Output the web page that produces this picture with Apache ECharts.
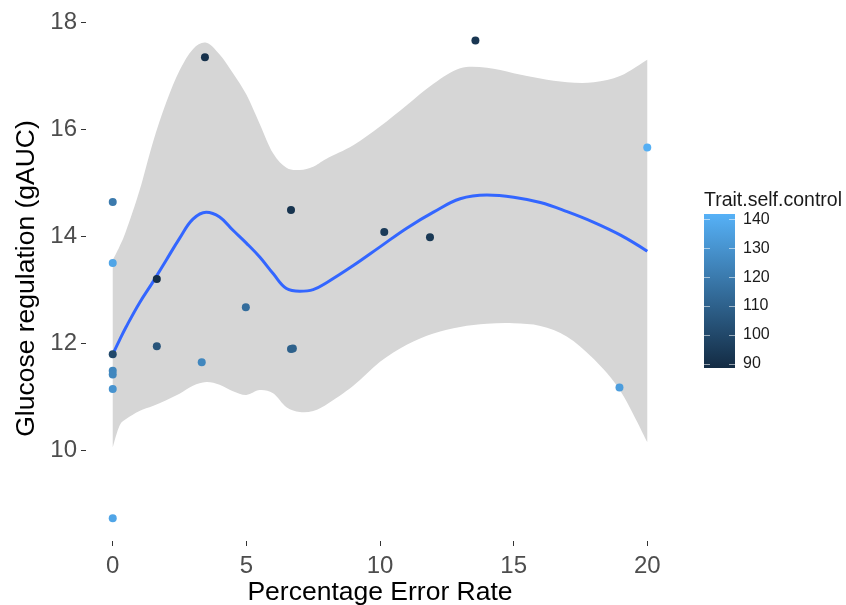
<!DOCTYPE html>
<html>
<head>
<meta charset="utf-8">
<script src="https://cdn.jsdelivr.net/npm/echarts@6/dist/echarts.min.js"></script>
<style>html,body{margin:0;padding:0;background:#fff}#c{width:846px;height:605px}</style>
</head>
<body>
<div id="c"></div>
<script>
// ---- data ----
const errorRate   = [0, 0, 0, 0, 0, 0, 0, 1.65, 1.65, 3.45, 3.33, 4.98, 6.67, 6.67, 6.74, 10.16, 11.87, 13.57, 20.0, 18.96];
const glucose     = [14.64, 13.50, 11.79, 11.48, 11.41, 11.14, 8.72, 13.20, 11.94, 17.35, 11.64, 12.67, 14.49, 11.89, 11.90, 14.08, 13.98, 17.66, 15.66, 11.17];
const selfControl = [120, 137, 100, 125, 125, 130, 137, 90, 105, 91, 125, 115, 92, 110, 110, 95, 94, 93, 141, 134];

const smoothX  = [0, 0.25, 0.5, 1, 1.5, 2, 2.5, 3, 3.5, 4, 4.5, 5, 5.5, 6, 6.5, 7, 7.5, 8, 9, 10, 11, 12, 13, 14, 15, 16, 17, 18, 19, 20];
const fitY     = [11.79, 12.05, 12.30, 12.75, 13.14, 13.55, 13.96, 14.32, 14.45, 14.36, 14.11, 13.87, 13.61, 13.30, 13.02, 12.97, 13.00, 13.13, 13.45, 13.80, 14.15, 14.45, 14.70, 14.77, 14.73, 14.63, 14.46, 14.26, 14.02, 13.72];
const upperY   = [13.55, 13.80, 14.10, 14.85, 15.75, 16.50, 17.10, 17.50, 17.62, 17.40, 17.05, 16.65, 16.10, 15.55, 15.28, 15.24, 15.30, 15.45, 15.70, 16.05, 16.45, 16.85, 17.14, 17.15, 17.05, 16.95, 16.88, 16.88, 17.00, 17.30];
const lowerY   = [10.05, 10.45, 10.58, 10.73, 10.82, 10.93, 11.05, 11.20, 11.27, 11.22, 11.10, 11.03, 11.12, 11.06, 10.80, 10.71, 10.73, 10.85, 11.20, 11.65, 11.97, 12.18, 12.30, 12.36, 12.37, 12.32, 12.12, 11.70, 11.10, 10.15];

const xTicks = [0, 5, 10, 15, 20];
const yTicks = [10, 12, 14, 16, 18];
const legendTicks = [90, 100, 110, 120, 130, 140];
const legendMin = 88.6, legendMax = 141.8;

// ---- chart ----
const LOW = '#132B43', HIGH = '#56B1F7';
const FONT = 'Liberation Sans, Arial, sans-serif';
const chart = echarts.init(document.getElementById('c'), null, {renderer: 'canvas'});

const scatterData = errorRate.map((x, i) => [x, glucose[i], selfControl[i]]);
const lineData = smoothX.map((x, i) => [x, fitY[i]]);

// smooth path (Catmull-Rom -> cubic bezier) through pixel points
function curve(p, move) {
  let d = (move ? 'M' : 'L') + p[0][0] + ',' + p[0][1];
  for (let i = 0; i < p.length - 1; i++) {
    const p0 = p[i - 1] || p[i], p1 = p[i], p2 = p[i + 1], p3 = p[i + 2] || p[i + 1];
    const c1 = [p1[0] + (p2[0] - p0[0]) / 6, p1[1] + (p2[1] - p0[1]) / 6];
    const c2 = [p2[0] - (p3[0] - p1[0]) / 6, p2[1] - (p3[1] - p1[1]) / 6];
    d += ' C' + c1[0] + ',' + c1[1] + ' ' + c2[0] + ',' + c2[1] + ' ' + p2[0] + ',' + p2[1];
  }
  return d;
}

const legendTick = {show: true, inside: true, length: 6, customValues: legendTicks,
  lineStyle: {color: 'rgba(255,255,255,0.55)', width: 1}};

const option = {
  animation: false,
  backgroundColor: '#ffffff',
  textStyle: {fontFamily: FONT},
  title: {
    text: 'Trait.self.control',
    left: 699, top: 186,
    textStyle: {fontFamily: FONT, fontSize: 19.5, fontWeight: 'normal', color: '#1a1a1a'}
  },
  grid: [
    {left: 86, right: 172, top: 16, bottom: 64, containLabel: false, outerBoundsMode: 'none'},
    {left: 704, width: 31, top: 214, height: 154, show: true, borderWidth: 0, outerBoundsMode: 'none',
     backgroundColor: {type: 'linear', x: 0, y: 0, x2: 0, y2: 1,
       colorStops: [{offset: 0, color: HIGH}, {offset: 1, color: LOW}]}}
  ],
  xAxis: [
    {type: 'value', gridIndex: 0, min: -1, max: 21,
     name: 'Percentage Error Rate', nameLocation: 'middle', nameGap: 38, nameMoveOverlap: false,
     nameTextStyle: {fontFamily: FONT, fontSize: 26.5, color: '#000'},
     axisLine: {show: false, onZero: false}, splitLine: {show: false},
     axisTick: {show: true, length: 5, customValues: xTicks, lineStyle: {color: '#333', width: 1}},
     axisLabel: {customValues: xTicks, fontSize: 24, color: '#4d4d4d', margin: 13, fontFamily: FONT}},
    {type: 'value', gridIndex: 1, min: 0, max: 1, show: false, axisLine: {onZero: false}}
  ],
  yAxis: [
    {type: 'value', gridIndex: 0, min: 8.296, max: 18.12,
     name: 'Glucose regulation (gAUC)', nameLocation: 'middle', nameGap: 46, nameMoveOverlap: false,
     nameTextStyle: {fontFamily: FONT, fontSize: 26.5, color: '#000'},
     axisLine: {show: false, onZero: false}, splitLine: {show: false},
     axisTick: {show: true, length: 5, customValues: yTicks, lineStyle: {color: '#333', width: 1}},
     axisLabel: {customValues: yTicks, fontSize: 24, color: '#4d4d4d', margin: 9, fontFamily: FONT}},
    {type: 'value', gridIndex: 1, min: legendMin, max: legendMax, position: 'right',
     axisLine: {show: false, onZero: false}, splitLine: {show: false},
     axisTick: legendTick,
     axisLabel: {customValues: legendTicks, fontSize: 16, color: '#1a1a1a', margin: 8, fontFamily: FONT}},
    {type: 'value', gridIndex: 1, min: legendMin, max: legendMax, position: 'left',
     axisLine: {show: false, onZero: false}, splitLine: {show: false},
     axisTick: legendTick,
     axisLabel: {show: false}}
  ],
  visualMap: {
    type: 'continuous', show: false, seriesIndex: 2, dimension: 2,
    min: legendMin, max: legendMax, inRange: {color: [LOW, HIGH]}
  },
  series: [
    {
      // confidence band
      type: 'custom', xAxisIndex: 0, yAxisIndex: 0, z: 1, silent: true,
      data: [[0, 12]],
      renderItem: function (params, api) {
        const up = smoothX.map((x, i) => api.coord([x, upperY[i]]));
        const lo = smoothX.map((x, i) => api.coord([x, lowerY[i]])).reverse();
        const d = curve(up, true) + ' ' + curve(lo, false) + ' Z';
        return {type: 'path', shape: {pathData: d}, style: {fill: '#d6d6d6', stroke: null}};
      }
    },
    {
      type: 'line', xAxisIndex: 0, yAxisIndex: 0, z: 2, data: lineData,
      smooth: 0.4, showSymbol: false, symbol: 'none',
      lineStyle: {color: '#3366FF', width: 3}
    },
    {
      type: 'scatter', xAxisIndex: 0, yAxisIndex: 0, z: 3, data: scatterData,
      symbolSize: 8, itemStyle: {opacity: 1}
    }
  ]
};
chart.setOption(option);
</script>
</body>
</html>
